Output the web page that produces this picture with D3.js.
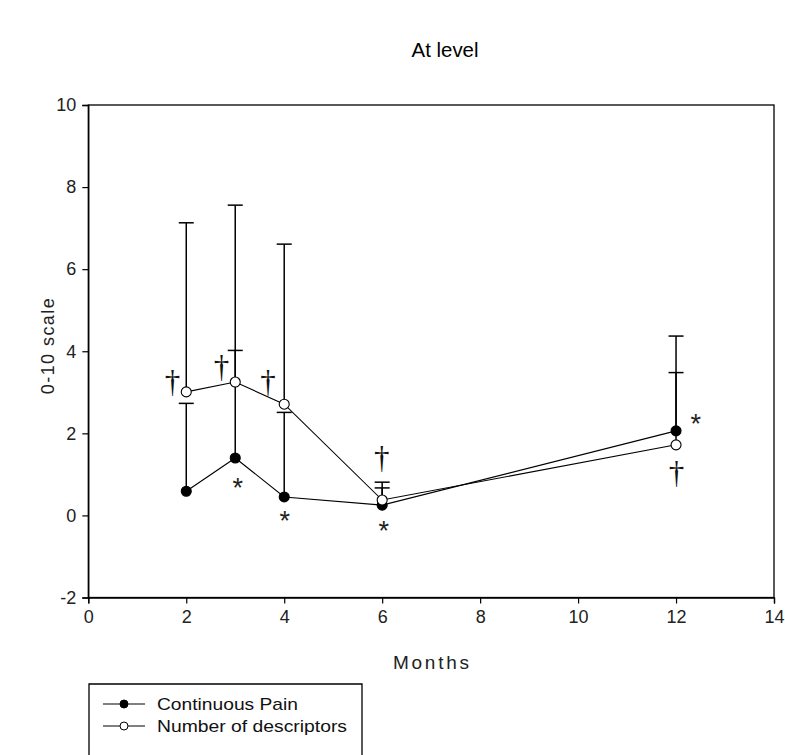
<!DOCTYPE html>
<html><head><meta charset="utf-8">
<script src="https://cdn.jsdelivr.net/npm/d3@7"></script>
<style>body{margin:0;background:#fff}svg{display:block}</style>
</head><body>
<svg id="c" width="785" height="755" font-family='"Liberation Sans",Arial,sans-serif'></svg>
<script>
const months = [2, 3, 4, 6, 12];
const painMean = [0.59, 1.40, 0.45, 0.25, 2.06];
const painUpper = [2.73, 4.02, 2.51, 0.67, 4.37];
const descMean = [3.01, 3.25, 2.71, 0.375, 1.72];
const descUpper = [7.13, 7.56, 6.61, 0.81, 3.48];
const xTicks = [0, 2, 4, 6, 8, 10, 12, 14];
const yTicks = [-2, 0, 2, 4, 6, 8, 10];
const daggers = [[1.72, 3.26], [2.72, 3.62], [3.67, 3.25], [5.99, 1.40], [12.01, 1.03]];
const stars = [[3.05, 0.77], [4.01, -0.03], [6.03, -0.28], [12.40, 2.32]];

const svg = d3.select("#c");
const L = 88.3, R = 774, T = 105, B = 597.5;
const x = d3.scaleLinear().domain([0, 14]).range([L, R]);
const y = d3.scaleLinear().domain([-2, 10]).range([B, T]);

svg.append("rect").attr("x", L).attr("y", T).attr("width", R - L).attr("height", B - T)
  .attr("fill", "none").attr("stroke", "#000").attr("stroke-width", 1.3);

const tickFont = '"Liberation Sans Narrow","Liberation Sans",Arial,sans-serif';
const fmt = d => String(d);
const xa = svg.append("g").attr("transform", `translate(0,${B})`)
  .call(d3.axisBottom(x).tickValues(xTicks).tickSize(6).tickPadding(5).tickFormat(fmt));
const ya = svg.append("g").attr("transform", `translate(${L},0)`)
  .call(d3.axisLeft(y).tickValues(yTicks).tickSize(6).tickPadding(6).tickFormat(fmt));
[xa, ya].forEach(a => {
  a.attr("font-size", 18).attr("font-family", tickFont);
  a.select(".domain").attr("stroke", "#000").attr("stroke-width", 1.3);
  a.selectAll(".tick line").attr("stroke", "#000").attr("stroke-width", 1.2);
  a.selectAll(".tick text").attr("fill", "#222");
});
xa.selectAll(".tick text").attr("dy", "0.78em");

svg.append("text").attr("x", 445).attr("y", 57).attr("text-anchor", "middle")
  .attr("font-size", 20).attr("textLength", 67).attr("lengthAdjust", "spacingAndGlyphs").text("At level");
svg.append("text").attr("x", 431).attr("y", 669).attr("text-anchor", "middle")
  .attr("font-size", 19).attr("fill", "#222").attr("textLength", 76).attr("lengthAdjust", "spacing").text("Months");
svg.append("text").attr("transform", `translate(54,${(T + B) / 2 - 5}) rotate(-90)`).attr("text-anchor", "middle")
  .attr("font-size", 18).attr("fill", "#222").attr("textLength", 96).attr("lengthAdjust", "spacing").text("0-10 scale");

function errBars(mean, upper) {
  const g = svg.append("g").attr("stroke", "#000");
  months.forEach((m, i) => {
    g.append("line").attr("x1", x(m)).attr("x2", x(m)).attr("y1", y(mean[i])).attr("y2", y(upper[i])).attr("stroke-width", 1.5);
    g.append("line").attr("x1", x(m) - 7.5).attr("x2", x(m) + 7.5).attr("y1", y(upper[i])).attr("y2", y(upper[i])).attr("stroke-width", 1.5);
  });
}
errBars(painMean, painUpper);
errBars(descMean, descUpper);

const line = d3.line().x((d, i) => x(months[i])).y(d => y(d));
function series(vals, fill) {
  svg.append("path").attr("d", line(vals)).attr("fill", "none").attr("stroke", "#000").attr("stroke-width", 1.1);
  svg.append("g").selectAll("circle").data(vals).join("circle")
    .attr("cx", (d, i) => x(months[i])).attr("cy", d => y(d)).attr("r", 5)
    .attr("fill", fill).attr("stroke", "#000").attr("stroke-width", 1.1);
}
series(painMean, "#000");
series(descMean, "#fff");

svg.append("g").selectAll("text").data(daggers).join("text")
  .attr("x", d => x(d[0])).attr("y", d => y(d[1]) + 10).attr("text-anchor", "middle")
  .attr("font-family", '"Liberation Serif","DejaVu Serif",serif').attr("font-size", 31).attr("fill", "#111").text("\u2020");
svg.append("g").selectAll("text").data(stars).join("text")
  .attr("x", d => x(d[0])).attr("y", d => y(d[1]) + 13).attr("text-anchor", "middle")
  .attr("font-size", 27).attr("fill", "#222").text("*");

const lg = svg.append("g");
lg.append("path").attr("d", "M89,760V684H362V760").attr("fill", "none").attr("stroke", "#000").attr("stroke-width", 1.3);
const legendItems = [["Continuous Pain", "#000", 141], ["Number of descriptors", "#fff", 190]];
legendItems.forEach((it, i) => {
  const yy = 704 + i * 22;
  lg.append("line").attr("x1", 103).attr("x2", 145).attr("y1", yy).attr("y2", yy).attr("stroke", "#000").attr("stroke-width", 1.1);
  lg.append("circle").attr("cx", 124).attr("cy", yy).attr("r", 4).attr("fill", it[1]).attr("stroke", "#000");
  lg.append("text").attr("x", 157).attr("y", yy + 6).attr("font-size", 17).attr("fill", "#111")
    .attr("textLength", it[2]).attr("lengthAdjust", "spacingAndGlyphs").text(it[0]);
});
</script>
</body></html>
